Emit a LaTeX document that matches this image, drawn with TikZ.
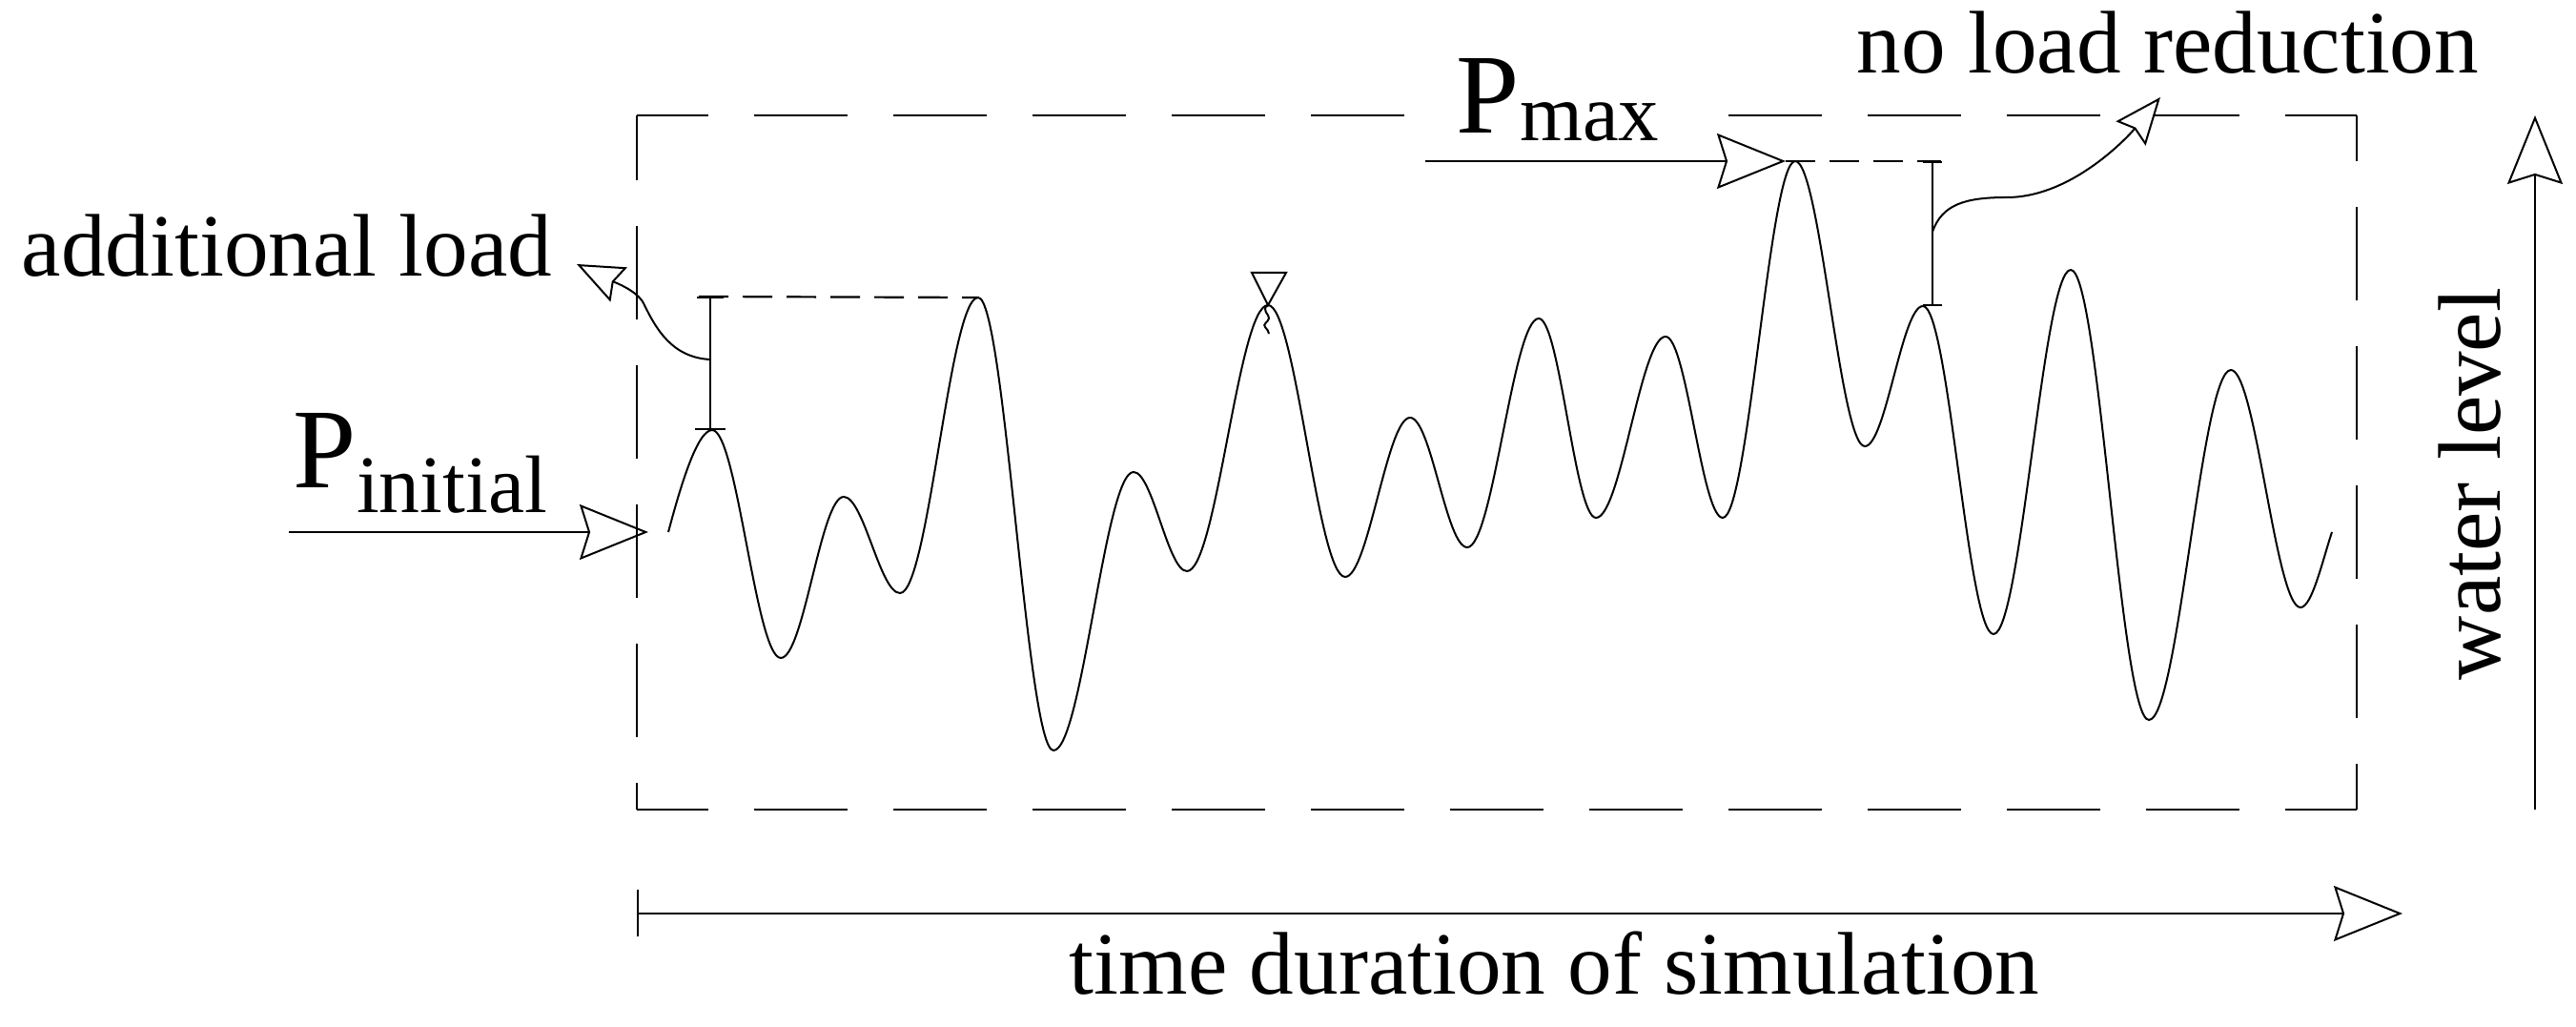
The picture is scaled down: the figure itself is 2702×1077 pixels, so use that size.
\documentclass[tikz,border=0pt]{standalone}
\usepackage{fontspec}
\setmainfont{Liberation Serif}
\usetikzlibrary{arrows.meta}
\tikzset{
  wave/.style={line width=0.5pt, line join=round},
  boxdash/.style={line width=0.55pt, dash pattern=on 24.5pt off 12pt},
  shortdash/.style={line width=0.55pt, dash pattern=on 7.75pt off 3.75pt},
  ptr/.style={line width=0.5pt},
  bigtip/.tip={Stealth[length=18pt,width=14.5pt,inset=2.25pt,fill=white,line width=0.5pt]},
  smalltip/.tip={Stealth[length=12.25pt,width=10pt,inset=1.5pt,fill=white,line width=0.5pt]},
  lbl/.style={font=\fontsize{23.3}{26}\selectfont, inner sep=0pt},
}
\begin{document}
\begin{tikzpicture}[x=0.25pt,y=-0.25pt]
\useasboundingbox (0,0) rectangle (2702,1077);
% P_initial arrow (drawn below the box)
\coordinate (pi0) at (303,558);
\coordinate (pi1) at (680,558);
\draw[ptr, -{bigtip}] (pi0) -- (pi1);
% box
\coordinate (TL) at (668,121);
\coordinate (TR) at (2472,121);
\coordinate (BL) at (668,849);
\coordinate (BR) at (2472,849);
\draw[boxdash, dash phase=5.75pt] (TL) -- (TR);
\draw[boxdash, dash phase=5.75pt] (BL) -- (BR);
\draw[boxdash, dash phase=7.5pt] (TL) -- (BL);
\draw[boxdash, dash phase=12.5pt] (TR) -- (BR);
% extrema
\coordinate (S) at (701,558);
\coordinate (P1) at (747,451);
\coordinate (T2) at (819,690);
\coordinate (P3) at (885,521);
\coordinate (T4) at (944,622);
\coordinate (P5) at (1026,312);
\coordinate (T6) at (1105,787);
\coordinate (P7) at (1189,495);
\coordinate (T8) at (1245,599);
\coordinate (P9) at (1330,320);
\coordinate (T10) at (1411,605);
\coordinate (P11) at (1479,438);
\coordinate (T12) at (1539,574);
\coordinate (P13) at (1614,334);
\coordinate (T14) at (1674,543);
\coordinate (P15) at (1747,353);
\coordinate (T16) at (1807,543);
\coordinate (P17) at (1883,169);
\coordinate (T18) at (1956,468);
\coordinate (P19) at (2017,321);
\coordinate (T20) at (2091,665);
\coordinate (P21) at (2172,283);
\coordinate (T22) at (2254,755);
\coordinate (P23) at (2340,388);
\coordinate (T24) at (2413,637);
\coordinate (E) at (2446,558);
\draw[wave] (S) .. controls +(12,-45) and +(-16,0) .. (P1)
  .. controls +(26,0) and +(-26,0) .. (T2)
  .. controls +(24,0) and +(-24,0) .. (P3)
  .. controls +(21,0) and +(-21,0) .. (T4)
  .. controls +(30,0) and +(-30,0) .. (P5)
  .. controls +(28,0) and +(-28,0) .. (T6)
  .. controls +(30,0) and +(-30,0) .. (P7)
  .. controls +(20,0) and +(-20,0) .. (T8)
  .. controls +(31,0) and +(-31,0) .. (P9)
  .. controls +(29,0) and +(-29,0) .. (T10)
  .. controls +(24,0) and +(-24,0) .. (P11)
  .. controls +(22,0) and +(-22,0) .. (T12)
  .. controls +(27,0) and +(-27,0) .. (P13)
  .. controls +(22,0) and +(-22,0) .. (T14)
  .. controls +(26,0) and +(-26,0) .. (P15)
  .. controls +(22,0) and +(-22,0) .. (T16)
  .. controls +(27,0) and +(-27,0) .. (P17)
  .. controls +(26,0) and +(-26,0) .. (T18)
  .. controls +(22,0) and +(-22,0) .. (P19)
  .. controls +(27,0) and +(-27,0) .. (T20)
  .. controls +(29,0) and +(-29,0) .. (P21)
  .. controls +(30,0) and +(-30,0) .. (T22)
  .. controls +(31,0) and +(-31,0) .. (P23)
  .. controls +(26,0) and +(-26,0) .. (T24)
  .. controls +(12,0) and +(-10,30) .. (E);
% time axis
\coordinate (t0) at (668,958);
\coordinate (t1) at (2520,958);
\draw[ptr, {Bar[width=12.25pt]}-{bigtip}] (t0) -- (t1);
% water level axis
\coordinate (w0) at (2659,849);
\coordinate (w1) at (2659,121);
\draw[ptr, -{bigtip}] (w0) -- (w1);
% labels
\node[lbl, anchor=base west] (addl) at (22,290) {additional load};
\node[lbl, anchor=base west] (nolr) at (1947,77) {no load reduction};
\node[lbl, anchor=base west] (tds) at (1121,1043) {time duration of simulation};
\node[lbl, anchor=base west, rotate=90] (wlev) at (2622,714) {water level};
\node[inner sep=0pt, anchor=base west] (Pi) at (307,512)
  {\fontsize{29.8}{32}\selectfont P\raisebox{-6.5pt}{\fontsize{21.4}{24}\selectfont initial}};
\node[fill=white, inner xsep=7.5pt, inner ysep=2pt, anchor=base west] (Pm) at (1497,140)
  {\fontsize{29.8}{32}\selectfont P\raisebox{-2pt}{\fontsize{21.2}{24}\selectfont max}};
% P_max arrow
\coordinate (pm0) at (1495,169);
\coordinate (pm1) at (1873,169);
\draw[ptr, -{bigtip}] (pm0) -- (pm1);
% additional load marker
\coordinate (al0) at (745,311);
\coordinate (al1) at (745,451);
\coordinate (ald) at (733,311);
\draw[ptr, {Bar[width=7pt]}-{Bar[width=8pt]}] (al0) -- (al1);
\draw[shortdash] (ald) -- (P5);
\coordinate (alc) at (745,377);
\coordinate (alt) at (605,277);
\draw[ptr, -{smalltip}] (alc) .. controls (705,375) and (688,345) .. (675,318)
  .. controls (668,304) and (640,294) .. (alt);
% no load reduction marker
\coordinate (nl0) at (2027,169);
\coordinate (nl1) at (2027,321);
\coordinate (nld) at (2036,169);
\draw[ptr, {Bar[width=5pt]}-{Bar[width=5pt]}] (nl0) -- (nl1);
\draw[shortdash] (pm1) -- (nld);
\coordinate (nlc) at (2027,243);
\coordinate (nlt) at (2266,102);
\draw[ptr, -{smalltip}] (nlc) .. controls (2037,215) and (2060,207) .. (2105,207)
  .. controls (2175,207) and (2235,140) .. (nlt);
% water level symbol
\coordinate (ws1) at (1313,286);
\coordinate (ws2) at (1349,286);
\draw[ptr, line join=miter] (ws1) -- (ws2) -- (P9) -- cycle;
\draw[ptr] (P9) .. controls (1322,325) and (1332,330) .. (1331,334)
  .. controls (1330,338) and (1324,340) .. (1327,343)
  .. controls (1329,346) and (1331,347) .. (1331,350);
\end{tikzpicture}
\end{document}
